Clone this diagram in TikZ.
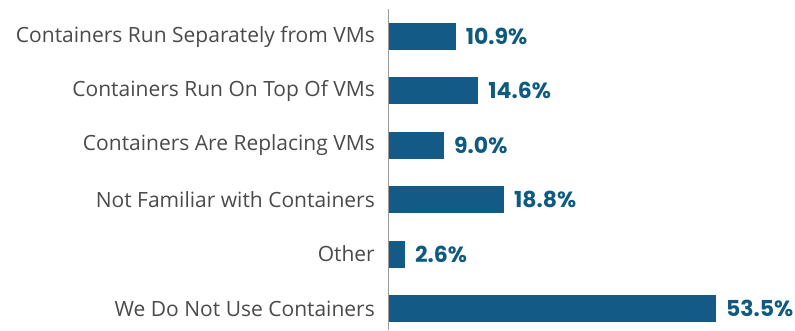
\documentclass[tikz,border=0pt]{standalone}
\usepackage{fontspec}
\setmainfont{Open Sans}
\newfontfamily\valfont{Poppins}
\definecolor{barblue}{HTML}{135A86}
\definecolor{valblue}{HTML}{0F5A80}
\definecolor{labgray}{HTML}{4A4A4A}
\definecolor{axisgray}{HTML}{9A9A9A}
\begin{document}
\begin{tikzpicture}[x=1pt,y=-1pt,
  bar/.style={fill=barblue,draw=none},
  catlabel/.style={anchor=east,text=labgray,font=\fontsize{21}{24}\selectfont,inner sep=0pt},
  vallabel/.style={anchor=west,text=valblue,font=\valfont\fontsize{22}{26}\selectfont\bfseries,inner sep=0pt},
  axisline/.style={draw=axisgray,line width=1.5pt}]
\useasboundingbox (0,0) rectangle (795,330);
\def\scl{6.11}
\foreach \i/\lab/\v/\vt in {0/Containers Run Separately from VMs/10.9/10.9\%,
  1/Containers Run On Top Of VMs/14.6/14.6\%,
  2/Containers Are Replacing VMs/9.0/9.0\%,
  3/Not Familiar with Containers/18.8/18.8\%,
  4/Other/2.6/2.6\%,
  5/We Do Not Use Containers/53.5/53.5\%}{
  \pgfmathsetmacro{\yc}{36.5+54.4*\i}
  \pgfmathsetmacro{\xe}{389+\scl*\v}
  \fill[bar] (389,\yc-13.5) rectangle (\xe,\yc+13.5);
  \coordinate (e\i) at (\xe,\yc);
  \node[catlabel] (c\i) at (375,\yc) {\lab};
  \node[vallabel] (v\i) at ([xshift=10pt]e\i) {\vt};
}
\coordinate (atop) at (388.5,9);
\coordinate (abot) at (388.5,330);
\draw[axisline] (atop) -- (abot);
\end{tikzpicture}
\end{document}
